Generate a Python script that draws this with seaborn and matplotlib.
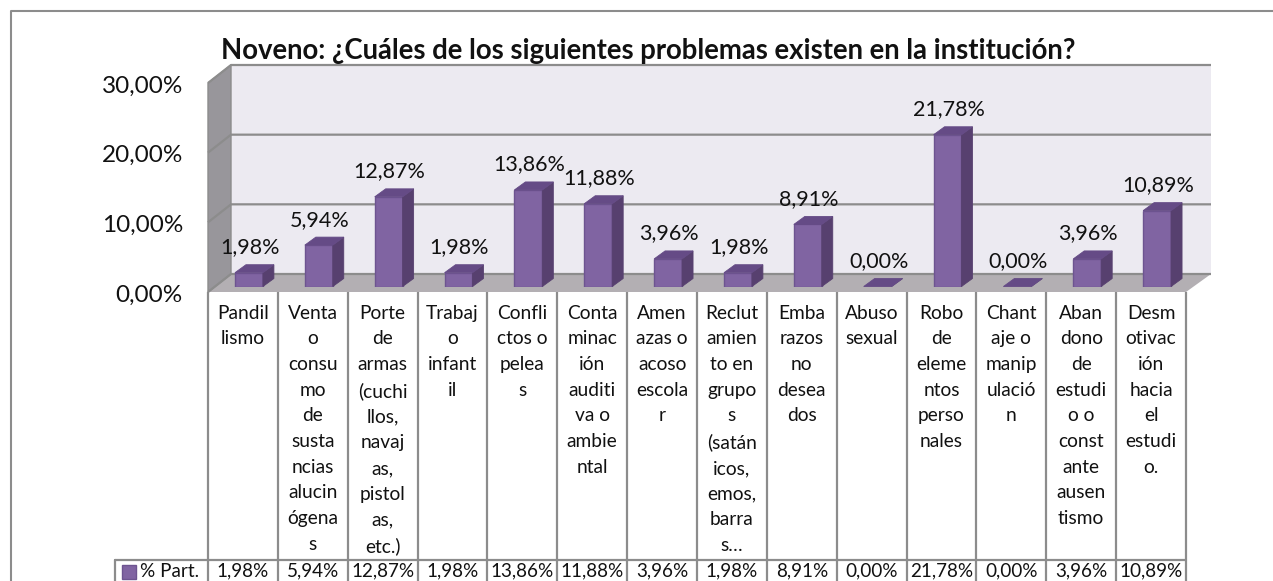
import matplotlib
matplotlib.use('Agg')
import matplotlib.pyplot as plt
import seaborn as sns
import pandas as pd
from matplotlib.lines import Line2D
from matplotlib.patches import Polygon, Rectangle

categorias = [
    'Pandil\nlismo',
    'Venta\no\nconsu\nmo\nde\nsusta\nncias\nalucin\nógena\ns',
    'Porte\nde\narmas\n(cuchi\nllos,\nnavaj\nas,\npistol\nas,\netc.)',
    'Trabaj\no\ninfant\nil',
    'Confli\nctos o\npelea\ns',
    'Conta\nminac\nión\nauditi\nva o\nambie\nntal',
    'Amen\nazas o\nacoso\nescola\nr',
    'Reclut\namien\nto en\ngrupo\ns\n(satán\nicos,\nemos,\nbarra\ns…',
    'Emba\nrazos\nno\ndesea\ndos',
    'Abuso\nsexual',
    'Robo\nde\neleme\nntos\nperso\nnales',
    'Chant\naje o\nmanip\nulació\nn',
    'Aban\ndono\nde\nestudi\no o\nconst\nante\nausen\ntismo',
    'Desm\notivac\nión\nhacia\nel\nestudi\no.',
]
valores = [1.98, 5.94, 12.87, 1.98, 13.86, 11.88, 3.96, 1.98, 8.91, 0.00, 21.78, 0.00, 3.96, 10.89]
ticks_y = [0, 10, 20, 30]
serie = '% Part.'
titulo = 'Noveno: ¿Cuáles de los siguientes problemas existen en la institución?'

W, H = 1273, 581
PX_Y = 209 / 30      # pixeles por punto porcentual
PX_X = 978 / 14      # pixeles por categoria
GRIS = '#8c8c8c'


def fmt(v):
    return f'{v:.2f}%'.replace('.', ',')


sns.set_style('white')
plt.rcParams['font.family'] = ['Lato', 'DejaVu Sans']

df = pd.DataFrame({'cat': categorias, 'val': valores})

fig = plt.figure(figsize=(W / 100, H / 100), dpi=100)
ax = fig.add_axes([208 / W, (H - 286.5) / H, 978 / W, 209 / H])

ax.set_facecolor('none')
sns.barplot(data=df, x='cat', y='val', color='#8064A2', width=0.4, saturation=1,
            edgecolor='#6d5490', linewidth=1, ax=ax, zorder=5)

desf = 6 / PX_X              # las barras van corridas respecto a la celda
sns.despine(ax=ax, left=True, bottom=True)

# paredes 3D
x0, x1 = -0.5 - desf, 13.5 - desf
fx, fy = 23 / PX_X, 18 / PX_Y
frente = -5.5 / PX_Y
atras = frente + fy
ax.add_patch(Polygon([(x0, frente), (x0 + fx, atras), (x1 + 25 / PX_X, atras), (x1, frente)],
                     fc='#b3afb3', ec='none', zorder=2, clip_on=False))
ax.add_patch(Polygon([(x0, frente), (x0 + fx, atras), (x0 + fx, 30 + atras), (x0, 30 + frente)],
                     fc='#98969b', ec=GRIS, lw=1, zorder=2, clip_on=False))
ax.add_patch(Rectangle((x0 + fx, atras), x1 + 25 / PX_X - x0 - fx, 30,
                       fc='#eceaf1', ec='none', zorder=1, clip_on=False))
for t in ticks_y:
    ax.plot([x0, x0 + fx, x1 + 25 / PX_X], [t + frente, t + atras, t + atras],
            color=GRIS, lw=1.6, zorder=3, clip_on=False, solid_capstyle='butt')

# caras laterales y superiores de cada barra
dx, dy = 11 / PX_X, 8 / PX_Y
for bar, v in zip(ax.containers[0], valores):
    a = bar.get_x()
    b = a + bar.get_width()
    ax.add_patch(Polygon([(b, 0), (b + dx, dy), (b + dx, v + dy), (b, v)],
                         fc='#57406f', ec='#57406f', lw=0.6, zorder=5, clip_on=False))
    ax.add_patch(Polygon([(a, v), (a + dx, v + dy), (b + dx, v + dy), (b, v)],
                         fc='#654b86', ec='#654b86', lw=0.6, zorder=6, clip_on=False))
    ax.text((a + b) / 2 + 1 / PX_X, v + 25.5 / PX_Y, fmt(v), ha='center', va='center',
            fontsize=15.5, color='#111111', zorder=8, clip_on=False)

# ejes
ax.set_yticks([])
for t in ticks_y:
    ax.text(x0 - 25 / PX_X, t - 8.5 / PX_Y, fmt(t), ha='right', va='center', fontsize=17.5,
            color='#111111', clip_on=False)
ax.set_xticks([k - desf for k in range(len(categorias))], categorias, linespacing=1.62)
ax.tick_params(axis='x', length=0, pad=13, labelsize=13.8, labelcolor='#111111')
ax.set_xlabel('')
ax.set_ylabel('')
ax.set_xlim(x0, x1)
ax.set_ylim(0, 30)

# tabla de datos
y_fila = -273.5 / PX_Y
y_fin = -300 / PX_Y
ax.vlines([k - 0.5 - desf for k in range(len(categorias) + 1)], y_fin, frente,
          color=GRIS, lw=1.6, zorder=4, clip_on=False)
x_ley = x0 - 93 / PX_X
ax.plot([x_ley, x1], [y_fila, y_fila], color=GRIS, lw=1.6, zorder=4, clip_on=False)
ax.plot([x_ley, x_ley], [y_fila, y_fin], color=GRIS, lw=1.6, zorder=4, clip_on=False)
for k, v in enumerate(valores):
    ax.text(k - desf, -284.5 / PX_Y, fmt(v), ha='center', va='center', fontsize=13.6,
            color='#111111', clip_on=False)
ax.add_patch(Rectangle((x_ley + 7 / PX_X, -292.5 / PX_Y), 14 / PX_X, 14 / PX_Y, fc='#8064A2',
                       ec='#6d5490', lw=1, clip_on=False))
ax.text(x_ley + 25 / PX_X, -284.5 / PX_Y, serie, ha='left', va='center', fontsize=13.6,
        color='#111111', clip_on=False)

# marco y titulo
fig.add_artist(Line2D([10.5 / W, 10.5 / W, 1], [0, 1 - 10.5 / H, 1 - 10.5 / H], color=GRIS, lw=1.5))
fig.text(221 / W, 1 - 51.5 / H, titulo, ha='left', va='center', fontsize=19.8, fontweight='bold',
         color='#111111')

fig.savefig('out.png', dpi=100)
